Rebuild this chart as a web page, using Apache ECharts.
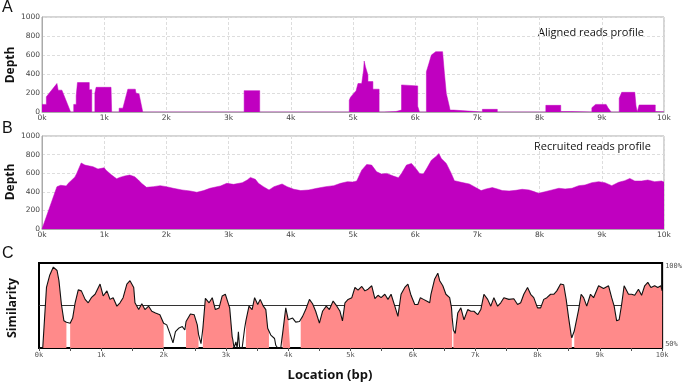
<!DOCTYPE html>
<html>
<head>
<meta charset="utf-8">
<script src="https://cdn.jsdelivr.net/npm/echarts@6/dist/echarts.min.js"></script>
<style>
  html, body { margin: 0; padding: 0; background: #fff; }
  #chart { width: 685px; height: 383px; }
</style>
</head>
<body>
<div id="chart"></div>
<script>
// location in bp, depth / similarity
const alignedDepth = [
  [0, 80], [70, 80], [70, 160], [240, 300], [260, 300], [260, 230], [320, 230], [460, 0],
  [510, 0], [510, 80], [550, 80], [550, 170], [570, 170], [570, 310], [760, 310], [760, 235], [800, 235], [800, 0],
  [850, 0], [850, 200], [870, 260], [1110, 260], [1120, 0],
  [1240, 0], [1240, 40], [1300, 40], [1380, 240], [1500, 240], [1510, 200], [1560, 190], [1620, 0],
  [3250, 0], [3250, 225], [3500, 225], [3500, 0],
  [4940, 0], [4940, 125], [4960, 155], [5050, 225], [5080, 300], [5140, 300], [5170, 440], [5180, 537],
  [5200, 477], [5240, 390], [5240, 320], [5320, 320], [5320, 240], [5420, 240], [5420, 0],
  [5500, 0], [5500, 5], [5690, 5], [5690, 20], [5780, 20], [5780, 285], [6040, 275], [6040, 60], [6070, 0],
  [6180, 0], [6180, 425], [6220, 510], [6260, 600], [6330, 635], [6440, 635], [6470, 405], [6500, 195],
  [6550, 55], [6560, 20], [6620, 20], [6620, 0],
  [7080, 0], [7080, 28], [7320, 28], [7320, 0],
  [8100, 0], [8100, 70], [8340, 70], [8340, 5], [8500, 5], [8500, 0],
  [8840, 0], [8840, 45], [8900, 80], [9070, 80], [9100, 45], [9150, 0],
  [9280, 0], [9280, 145], [9320, 207], [9530, 207], [9550, 63], [9570, 0],
  [9600, 0], [9600, 74], [9860, 74], [9860, 5], [10000, 5]
];

const recruitedDepth = [
  [0, 0], [240, 455], [300, 470], [390, 463], [400, 450], [420, 490], [530, 560], [560, 600], [630, 710],
  [690, 687], [820, 670], [900, 645], [1000, 658], [1030, 633], [1120, 580], [1200, 540], [1250, 555],
  [1330, 570], [1410, 580], [1490, 562], [1550, 527], [1600, 491], [1680, 448], [1790, 455], [1900, 466],
  [2000, 455], [2110, 438], [2250, 420], [2380, 409], [2490, 395], [2600, 413], [2700, 438], [2870, 463],
  [2970, 491], [3080, 480], [3220, 498], [3300, 527], [3350, 555], [3430, 534], [3480, 491], [3560, 455],
  [3650, 420], [3730, 455], [3860, 484], [3940, 455], [4050, 427], [4160, 413], [4290, 420], [4420, 438],
  [4560, 455], [4690, 466], [4800, 491], [4910, 509], [5000, 505], [5060, 516], [5140, 633], [5220, 694],
  [5300, 687], [5380, 616], [5460, 591], [5540, 598], [5650, 569], [5730, 552], [5780, 598], [5860, 687],
  [5940, 705], [6010, 651], [6070, 598], [6130, 591], [6180, 644], [6260, 740], [6340, 783], [6380, 811],
  [6420, 758], [6500, 705], [6580, 598], [6630, 520], [6740, 502], [6870, 484], [6950, 455], [7060, 413],
  [7140, 431], [7240, 445], [7320, 431], [7400, 413], [7510, 409], [7620, 416], [7720, 427], [7830, 420],
  [7910, 402], [7980, 384], [8070, 398], [8200, 420], [8310, 438], [8410, 431], [8520, 438], [8630, 466],
  [8730, 473], [8840, 498], [8950, 509], [9050, 498], [9160, 466], [9270, 502], [9370, 520], [9450, 544],
  [9530, 516], [9640, 516], [9740, 527], [9850, 509], [9960, 516], [10000, 505]
];

const similarity = [
  [0, 50], [60, 50], [120, 85.6], [140, 86.6], [170, 92.6], [230, 97.6], [260, 96.6], [290, 95.6], [320, 89.6],
  [360, 75.6], [400, 66], [440, 65.2], [500, 64.6], [540, 67.6], [580, 76.6], [630, 84.2], [680, 83.6],
  [740, 78.6], [790, 76.6], [840, 79.6], [900, 81.6], [980, 87.6], [1030, 80.6], [1090, 83.6], [1140, 78.6],
  [1190, 79.6], [1250, 74.6], [1300, 76.6], [1350, 79.6], [1410, 87.6], [1460, 89.6], [1520, 85.6],
  [1540, 76.6], [1600, 72.6], [1650, 76], [1700, 72.6], [1760, 74.6], [1810, 71.6], [1870, 70.6],
  [1940, 69.6], [2000, 64.6], [2050, 63.6], [2100, 58.6], [2150, 53], [2190, 59.6], [2240, 61.6],
  [2300, 62.6], [2340, 60.6], [2360, 65.6], [2430, 70], [2490, 69.6], [2540, 63.6], [2560, 58], [2600, 52.6],
  [2630, 61.6], [2670, 79.2], [2730, 76.6], [2780, 79.6], [2830, 72.6], [2890, 73.6], [2940, 80.6],
  [2990, 81.6], [3020, 81.6], [3060, 73.6], [3100, 56.6], [3110, 55], [3130, 50], [3160, 53.6], [3180, 50],
  [3200, 59.6], [3220, 50], [3260, 50], [3300, 61.6], [3320, 66], [3370, 74.6], [3420, 72.6], [3460, 79.6],
  [3510, 75.6], [3550, 78.6], [3600, 74.6], [3640, 72.6], [3670, 61.6], [3690, 60], [3720, 57.6],
  [3780, 55.6], [3800, 51.6], [3830, 50], [3880, 50], [3900, 56], [3910, 58.6], [3960, 73.6], [4000, 66.6],
  [4030, 65.6], [4070, 67.6], [4120, 65.2], [4180, 65.6], [4200, 66], [4230, 68.6], [4280, 72.6],
  [4340, 78.6], [4390, 76], [4440, 71.6], [4500, 64.6], [4550, 71.6], [4610, 74.6], [4660, 72.6],
  [4720, 77.6], [4780, 74.6], [4830, 71.6], [4870, 66], [4910, 76.6], [4960, 78.6], [5020, 79.6],
  [5070, 85.6], [5120, 84], [5180, 86.2], [5230, 83.6], [5280, 84.6], [5340, 86.6], [5390, 79], [5440, 81],
  [5490, 79.6], [5550, 81.6], [5600, 78.6], [5650, 81.6], [5710, 74.6], [5760, 68.6], [5810, 81.6],
  [5870, 85.6], [5920, 87.6], [5970, 81], [6030, 75.6], [6080, 75.6], [6120, 79.6], [6170, 78.6],
  [6220, 77.6], [6270, 76.6], [6290, 81.6], [6350, 90.6], [6380, 91.6], [6400, 94], [6430, 89.6],
  [6480, 86.6], [6530, 81.6], [6590, 79.6], [6620, 73.6], [6630, 68], [6650, 60.6], [6680, 58.6],
  [6720, 70.6], [6770, 73.6], [6820, 66.6], [6880, 72.6], [6930, 71.6], [6980, 71.6], [7040, 69.6],
  [7090, 72.6], [7140, 81.6], [7200, 78.6], [7250, 74.6], [7300, 79.6], [7360, 74.6], [7410, 76.6],
  [7460, 79.6], [7540, 78.6], [7620, 79], [7680, 75.6], [7730, 76.6], [7780, 81.6], [7840, 85.6],
  [7890, 81.6], [7940, 79.6], [8000, 73.6], [8050, 73.6], [8100, 78.6], [8150, 79.6], [8210, 81.6],
  [8260, 81.6], [8310, 83.6], [8370, 87.6], [8420, 87.2], [8460, 78.6], [8500, 67.6], [8540, 57.6],
  [8550, 56], [8560, 55], [8590, 60], [8610, 63.6], [8660, 72.6], [8700, 81.6], [8740, 79.6], [8790, 74.6],
  [8850, 81.6], [8900, 79.6], [8980, 86.6], [9060, 85], [9140, 86.6], [9190, 79.6], [9230, 74.6],
  [9270, 66], [9310, 66.6], [9350, 75.6], [9390, 86.6], [9460, 81.6], [9510, 81.6], [9560, 81],
  [9620, 84.6], [9670, 81], [9720, 86.6], [9770, 88.6], [9820, 85.6], [9880, 86.6], [9930, 85.6],
  [9980, 86.6], [10000, 83.6]
];

// stretches with no shading under the similarity curve
const unshaded = [[440, 500], [2000, 2360], [2560, 2630], [3110, 3320], [3690, 3900], [4030, 4200], [6630, 6650], [8550, 8590]];
const similarityCutoff = 75;

const xMin = 0, xMax = 10000, xStep = 1000;
const depthMax = 1000, depthStep = 200;
const simMin = 50, simMax = 100;

const magenta = "#c000c0";
const pink = "#ff8a8a";

// shading: break the area inside each unshaded stretch
let shadeData = similarity.map(p => {
  const inGap = unshaded.some(g => p[0] > g[0] && p[0] < g[1]);
  return inGap ? [p[0], null] : p;
});
unshaded.forEach(g => shadeData.push([(g[0] + g[1]) / 2, null]));
shadeData.sort((a, b) => a[0] - b[0]);

const kLabel = v => (v % 1000 === 0 ? v / 1000 + "k" : "");

const depthX = idx => ({
  type: "value", gridIndex: idx, min: xMin, max: xMax, interval: xStep,
  axisLine: { lineStyle: { color: "#aaa" } },
  axisTick: { show: false },
  axisLabel: { formatter: kLabel, fontFamily: "DejaVu Sans", fontSize: 7.5, color: "#444", margin: 2 },
  splitLine: { lineStyle: { color: "#ddd", type: [3, 2] } }
});
const depthY = idx => ({
  type: "value", gridIndex: idx, min: 0, max: depthMax, interval: depthStep,
  axisLine: { show: true, lineStyle: { color: "#aaa" } },
  axisTick: { show: false },
  axisLabel: { formatter: v => String(v), fontFamily: "DejaVu Sans", fontSize: 7.5, color: "#444", margin: 2 },
  splitLine: { lineStyle: { color: "#ddd", type: [3, 2] } }
});

const chart = echarts.init(document.getElementById("chart"), null, { renderer: "canvas" });

const option = {
  animation: false,
  backgroundColor: "#fff",
  grid: [
    { left: 42, top: 17, width: 622, height: 95, show: true, borderColor: "#aaa", borderWidth: 1 },
    { left: 42, top: 136, width: 622, height: 93, show: true, borderColor: "#aaa", borderWidth: 1 },
    { left: 39, top: 263, width: 625, height: 85, show: true, borderColor: "#000", borderWidth: 2 }
  ],
  xAxis: [
    depthX(0),
    depthX(1),
    {
      type: "value", gridIndex: 2, min: xMin, max: xMax, interval: xStep / 2,
      axisLine: { show: false },
      axisTick: { show: true, length: 3, lineStyle: { color: "#555" } },
      axisLabel: { formatter: kLabel, fontFamily: "DejaVu Sans Mono", fontSize: 7, color: "#555", margin: 4 },
      splitLine: { show: false }
    }
  ],
  yAxis: [
    depthY(0),
    depthY(1),
    {
      type: "value", gridIndex: 2, position: "right", min: simMin, max: simMax, interval: simMax - simMin,
      axisLine: { show: false },
      axisTick: { show: false },
      axisLabel: {
        formatter: v => v + "%", fontFamily: "DejaVu Sans Mono", fontSize: 7, color: "#555", margin: 3,
        verticalAlignMaxLabel: "top", verticalAlignMinLabel: "bottom"
      },
      splitLine: { show: false }
    }
  ],
  series: [
    {
      type: "line", xAxisIndex: 0, yAxisIndex: 0, data: alignedDepth,
      symbol: "none", lineStyle: { width: 0.5, color: magenta },
      areaStyle: { color: magenta, opacity: 1 }
    },
    {
      type: "line", xAxisIndex: 1, yAxisIndex: 1, data: recruitedDepth,
      symbol: "none", lineStyle: { width: 0.5, color: magenta },
      areaStyle: { color: magenta, opacity: 1 }
    },
    {
      type: "line", xAxisIndex: 2, yAxisIndex: 2, z: 1,
      data: [[xMin, similarityCutoff], [xMax, similarityCutoff]],
      symbol: "none", lineStyle: { width: 1, color: "#333" }
    },
    {
      type: "line", xAxisIndex: 2, yAxisIndex: 2, z: 2, data: shadeData, connectNulls: false,
      symbol: "none", lineStyle: { width: 0 },
      areaStyle: { color: pink, opacity: 1 }
    },
    {
      type: "line", xAxisIndex: 2, yAxisIndex: 2, z: 3, data: similarity,
      symbol: "none", lineStyle: { width: 1.1, color: "#111" }
    }
  ],
  graphic: [
    { type: "text", left: 2, top: 0, style: { text: "A", font: "16px 'Liberation Sans'", fill: "#111" } },
    { type: "text", left: 2, top: 121, style: { text: "B", font: "16px 'Liberation Sans'", fill: "#111" } },
    { type: "text", left: 2, top: 246, style: { text: "C", font: "16px 'Liberation Sans'", fill: "#111" } },
    { type: "text", x: 11, y: 65, rotation: Math.PI / 2,
      style: { text: "Depth", font: "bold 12px 'Open Sans'", fill: "#111", align: "center", verticalAlign: "middle" } },
    { type: "text", x: 11, y: 182, rotation: Math.PI / 2,
      style: { text: "Depth", font: "bold 12px 'Open Sans'", fill: "#111", align: "center", verticalAlign: "middle" } },
    { type: "text", x: 12, y: 308, rotation: Math.PI / 2,
      style: { text: "Similarity", font: "bold 12.5px 'Open Sans'", fill: "#111", align: "center", verticalAlign: "middle" } },
    { type: "text", x: 330, y: 375,
      style: { text: "Location (bp)", font: "bold 13px 'Open Sans'", fill: "#111", align: "center", verticalAlign: "middle" } },
    { type: "text", x: 538, y: 33,
      style: { text: "Aligned reads profile", font: "11px 'Open Sans'", fill: "#111", verticalAlign: "middle" } },
    { type: "text", x: 534, y: 147,
      style: { text: "Recruited reads profile", font: "11px 'Open Sans'", fill: "#111", verticalAlign: "middle" } }
  ]
};

chart.setOption(option);
</script>
</body>
</html>
